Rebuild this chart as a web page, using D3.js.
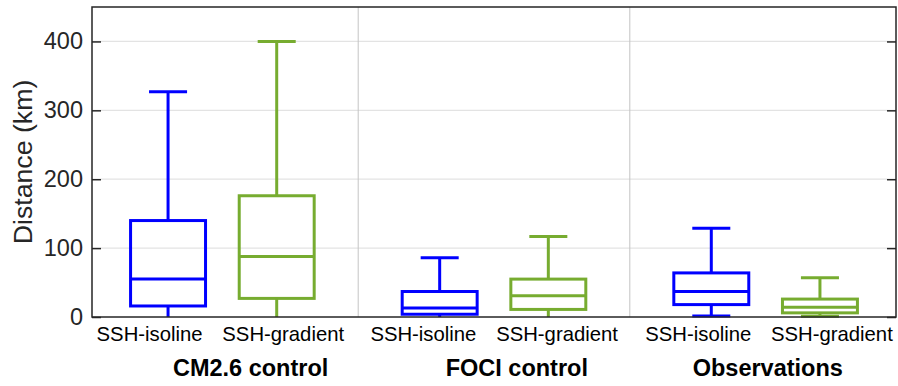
<!DOCTYPE html>
<html>
<head>
<meta charset="utf-8">
<script src="https://cdn.jsdelivr.net/npm/d3@7"></script>
<style>
  body { margin: 0; background: #fff; }
  text { font-family: "Liberation Sans", Arial, Helvetica, sans-serif; }
</style>
</head>
<body>
<div id="vis"></div>
<script>
const WIDTH = 898;
const HEIGHT = 386;
const MARGIN = { top: 7, right: 2, bottom: 69, left: 92 };

const BLUE = "#0000ff";
const GREEN = "#77ac30";

// ############
// data
// ############
const groups = ["CM2.6 control", "FOCI control", "Observations"];
const groupLabelPos = [1.76, 4.21, 6.52];
const separators = [2.75, 5.25];

const boxLabels = ["SSH-isoline", "SSH-gradient", "SSH-isoline", "SSH-gradient", "SSH-isoline", "SSH-gradient"];
const boxLabelPos = [0.83, 2.06, 3.35, 4.58, 5.88, 7.11];
const boxPos = [1, 2, 3.5, 4.5, 6, 7];
const whiskerLow = [0, 0, 0, 0, 1.5, 1];
const q1 = [16, 27, 4, 11, 18, 6];
const median = [55, 88, 13, 31, 37, 14];
const q3 = [140, 176, 37, 55, 64, 26];
const whiskerHigh = [327, 400, 86, 117, 129, 57];
const boxColors = [BLUE, GREEN, BLUE, GREEN, BLUE, GREEN];

const yTicks = [0, 100, 200, 300, 400];

const BOX_W = 0.69;
const CAP_W = 0.35;

// ############
// draw
// ############
const svg = d3.select("#vis").append("svg")
  .attr("width", WIDTH)
  .attr("height", HEIGHT);

const x = d3.scaleLinear().domain([0.3, 7.7]).range([MARGIN.left, WIDTH - MARGIN.right]);
const y = d3.scaleLinear().domain([0, 450]).range([HEIGHT - MARGIN.bottom, MARGIN.top]);

// grid
svg.append("g")
  .selectAll("line")
  .data(yTicks.slice(1))
  .join("line")
  .attr("x1", x.range()[0]).attr("x2", x.range()[1])
  .attr("y1", (d) => y(d)).attr("y2", (d) => y(d))
  .attr("stroke", "#e3e3e3")
  .attr("stroke-width", 1.2);

svg.append("g")
  .selectAll("line")
  .data(separators)
  .join("line")
  .attr("x1", (d) => x(d)).attr("x2", (d) => x(d))
  .attr("y1", y.range()[0]).attr("y2", y.range()[1])
  .attr("stroke", "#c4c4c4")
  .attr("stroke-width", 1);

// boxes
const data = boxPos.map((p, i) => ({
  pos: p,
  lo: whiskerLow[i],
  q1: q1[i],
  med: median[i],
  q3: q3[i],
  hi: whiskerHigh[i],
  color: boxColors[i],
  label: boxLabels[i],
  labelPos: boxLabelPos[i],
}));

const boxes = svg.append("g")
  .selectAll("g")
  .data(data)
  .join("g")
  .attr("stroke", (d) => d.color)
  .attr("stroke-width", 3)
  .attr("fill", "none");

// whiskers
boxes.append("line")
  .attr("x1", (d) => x(d.pos)).attr("x2", (d) => x(d.pos))
  .attr("y1", (d) => y(d.q3)).attr("y2", (d) => y(d.hi));
boxes.append("line")
  .attr("x1", (d) => x(d.pos)).attr("x2", (d) => x(d.pos))
  .attr("y1", (d) => y(d.q1)).attr("y2", (d) => y(d.lo));
// caps (lower cap at 0 sits under the axis line)
boxes.append("line")
  .attr("x1", (d) => x(d.pos - CAP_W / 2)).attr("x2", (d) => x(d.pos + CAP_W / 2))
  .attr("y1", (d) => y(d.hi)).attr("y2", (d) => y(d.hi));
boxes.filter((d) => d.lo > 0).append("line")
  .attr("x1", (d) => x(d.pos - CAP_W / 2)).attr("x2", (d) => x(d.pos + CAP_W / 2))
  .attr("y1", (d) => y(d.lo)).attr("y2", (d) => y(d.lo));
// box
boxes.append("rect")
  .attr("x", (d) => x(d.pos - BOX_W / 2))
  .attr("width", (d) => x(d.pos + BOX_W / 2) - x(d.pos - BOX_W / 2))
  .attr("y", (d) => y(d.q3))
  .attr("height", (d) => y(d.q1) - y(d.q3));
// median
boxes.append("line")
  .attr("x1", (d) => x(d.pos - BOX_W / 2)).attr("x2", (d) => x(d.pos + BOX_W / 2))
  .attr("y1", (d) => y(d.med)).attr("y2", (d) => y(d.med));

// axes frame
svg.append("rect")
  .attr("x", x.range()[0]).attr("y", y.range()[1])
  .attr("width", x.range()[1] - x.range()[0])
  .attr("height", y.range()[0] - y.range()[1])
  .attr("fill", "none")
  .attr("stroke", "#262626")
  .attr("stroke-width", 1.5);

// inward ticks left and right
const leftAxis = d3.axisLeft(y).tickValues(yTicks).tickSize(-9).tickPadding(9).tickFormat(d3.format("d"));
const rightAxis = d3.axisRight(y).tickValues(yTicks).tickSize(-9).tickFormat("");

const gl = svg.append("g").attr("transform", `translate(${x.range()[0]},0)`).call(leftAxis);
gl.select(".domain").remove();
gl.selectAll("line").attr("stroke", "#262626").attr("stroke-width", 1.5);
gl.selectAll("text")
  .attr("fill", "#262626")
  .attr("font-size", 23.5)
  .attr("font-family", "Liberation Sans, Arial, sans-serif");

const gr = svg.append("g").attr("transform", `translate(${x.range()[1]},0)`).call(rightAxis);
gr.select(".domain").remove();
gr.selectAll("line").attr("stroke", "#262626").attr("stroke-width", 1.5);

// x labels
svg.append("g")
  .selectAll("text")
  .data(data)
  .join("text")
  .attr("x", (d) => x(d.labelPos))
  .attr("y", 341)
  .attr("text-anchor", "middle")
  .attr("font-size", 20.3)
  .attr("fill", "#000")
  .text((d) => d.label);

svg.append("g")
  .selectAll("text")
  .data(groups)
  .join("text")
  .attr("x", (d, i) => x(groupLabelPos[i]))
  .attr("y", 376)
  .attr("text-anchor", "middle")
  .attr("font-size", 23.5)
  .attr("font-weight", "bold")
  .attr("fill", "#000")
  .text((d) => d);

// y label
svg.append("text")
  .attr("transform", `translate(32,${(y.range()[0] + y.range()[1]) / 2}) rotate(-90)`)
  .attr("text-anchor", "middle")
  .attr("font-size", 26.7)
  .attr("fill", "#262626")
  .text("Distance (km)");
</script>
</body>
</html>
